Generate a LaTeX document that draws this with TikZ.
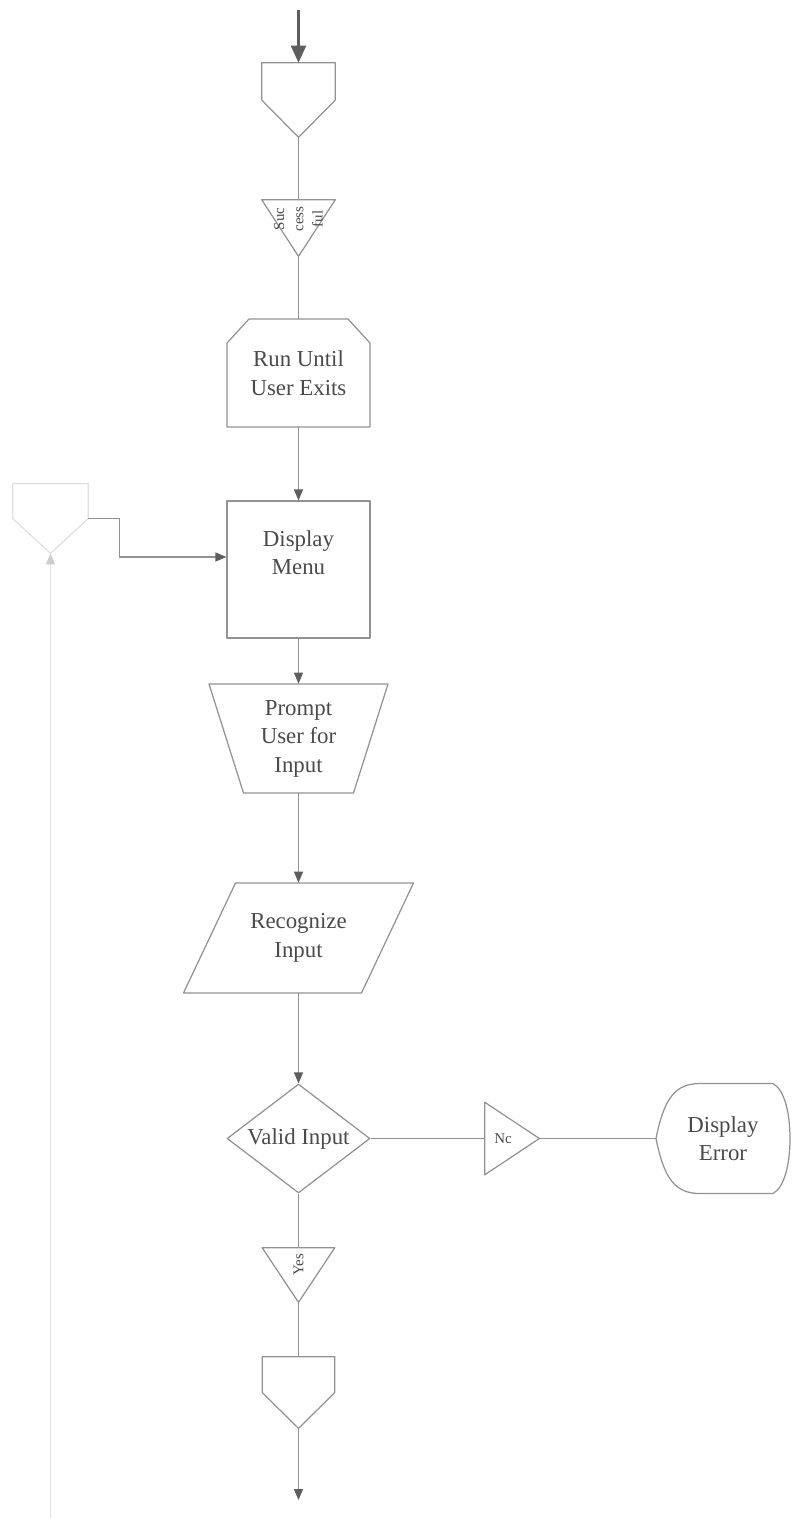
\documentclass[tikz,border=0pt]{standalone}
\usepackage{fontspec}
\setmainfont{Liberation Serif}
\usetikzlibrary{shapes.geometric, arrows.meta, positioning, calc}

\definecolor{linegray}{HTML}{929292}
\definecolor{tipgray}{HTML}{5E5E5E}
\definecolor{textgray}{HTML}{4A4A4A}
\definecolor{fadegray}{HTML}{E0E0E0}

\begin{document}
\begin{tikzpicture}[
    x=0.02cm, y=-0.02cm,
    every node/.style={text=textgray, font=\fontsize{13}{16.2}\selectfont},
    shapebox/.style={inner sep=0pt, align=center},
    tinytext/.style={font=\fontsize{8.5}{11}\selectfont},
    outline/.style={draw=linegray, line width=0.7pt, line join=round},
    link/.style={draw=linegray, line width=0.7pt},
    arrow/.style={link, -{Triangle[length=0.22cm,width=0.18cm,color=tipgray]}},
    entryarrow/.style={draw=tipgray, line width=1.2pt, -{Triangle[length=0.34cm,width=0.3cm]}},
    fadeline/.style={draw=fadegray, line width=0.7pt, -{Triangle[length=0.22cm,width=0.18cm,color=fadegray!80!gray]}}
]
    \useasboundingbox (0,0) rectangle (792,1518);

    % Entry
    \coordinate (entry) at (298.5,10);
    \node[shapebox, minimum width=1.46cm, minimum height=1.48cm] (offtop) at (298.5,100) {};
    \draw[outline] (offtop.north west) -- (offtop.north east) -- (offtop.east) -- (offtop.south) -- (offtop.west) -- cycle;

    % Successful
    \node[shapebox, minimum width=1.46cm, minimum height=1.12cm] (succ) at (298.5,228) {};
    \draw[outline] (succ.north west) -- (succ.north east) -- (succ.south) -- cycle;
    \node[shapebox, tinytext, rotate=90] (succtext) at (298.5,219) {Suc\\cess\\ful};

    % Loop limit
    \node[shapebox, minimum width=2.86cm, minimum height=2.16cm] (run) at (298.5,373) {Run Until\\User Exits};
    \draw[outline, shift={(run.center)}] (-71.5,54) -- (-71.5,-30) -- (-49.5,-54) -- (49.5,-54) -- (71.5,-30) -- (71.5,54) -- cycle;

    % Menu
    \node[shapebox, outline, minimum width=2.86cm, minimum height=2.74cm,
        label={[shapebox, yshift=0.34cm]center:Display\\Menu}] (menu) at (298.5,569.5) {};

    % Prompt
    \node[shapebox, minimum width=3.58cm, minimum height=2.18cm] (prompt) at (298.5,738.5) {Prompt\\User for\\Input};
    \draw[outline, shift={(prompt.center)}] (-89.5,-54.5) -- (89.5,-54.5) -- (55,54.5) -- (-55,54.5) -- cycle;

    % Recognize
    \node[shapebox, minimum width=4.6cm, minimum height=2.2cm] (recog) at (298.5,938) {Recognize\\Input};
    \draw[outline, shift={(recog.center)}] (-63,-55) -- (115,-55) -- (63,55) -- (-115,55) -- cycle;

    % Decision
    \node[diamond, outline, inner sep=0pt, aspect=1.31, minimum width=2.86cm, minimum height=2.18cm] (valid) at (298.5,1138.5) {Valid Input};

    % No branch
    \node[shapebox, minimum width=1.08cm, minimum height=1.44cm,
        label={[shapebox, tinytext, xshift=-0.18cm]center:Nc}] (no) at (512,1138.5) {};
    \draw[outline] (no.north west) -- (no.east) -- (no.south west) -- cycle;

    \node[shapebox, minimum width=2.68cm, minimum height=2.2cm] (error) at (723,1138.5) {Display\\Error};
    \draw[outline, shift={(error.center)}] (-67,0) .. controls (-59,-40) and (-48,-55) .. (-23,-55) -- (50,-55)
        .. controls (61,-49) and (67,-27) .. (67,0) .. controls (67,27) and (61,49) .. (50,55) -- (-23,55)
        .. controls (-48,55) and (-59,40) .. (-67,0) -- cycle;

    % Yes branch
    \node[shapebox, minimum width=1.44cm, minimum height=1.08cm] (yes) at (298.5,1275) {};
    \draw[outline] (yes.north west) -- (yes.north east) -- (yes.south) -- cycle;
    \node[shapebox, tinytext, rotate=90] (yestext) at (298.5,1265) {Yes};

    \node[shapebox, minimum width=1.44cm, minimum height=1.42cm] (offbot) at (298.5,1392.5) {};
    \draw[outline] (offbot.north west) -- (offbot.north east) -- (offbot.east) -- (offbot.south) -- (offbot.west) -- cycle;
    \coordinate (exit) at (298.5,1500);

    % Return connector
    \node[shapebox, minimum width=1.5cm, minimum height=1.38cm] (loop) at (50.5,518.5) {};
    \draw[outline, draw=fadegray] (loop.north west) -- (loop.north east) -- (loop.east) -- (loop.south) -- (loop.west) -- cycle;
    \coordinate (loopbase) at (50.5,1518);

    % Arrows
    \draw[entryarrow] (entry) -- (offtop.north);
    \draw[link] (offtop.south) -- (succ.north);
    \draw[link] (succ.south) -- (run.north);
    \draw[arrow] (run.south) -- (menu.north);
    \draw[arrow] (menu.south) -- (prompt.north);
    \draw[arrow] (prompt.south) -- (recog.north);
    \draw[arrow] (recog.south) -- (valid.north);
    \draw[link] (valid.east) -- (no.west);
    \draw[link] (no.east) -- (error.west);
    \draw[link] (valid.south) -- (yes.north);
    \draw[link] (yes.south) -- (offbot.north);
    \draw[arrow] (offbot.south) -- (exit);
    \draw[fadeline] (loopbase) -- (loop.south);
    \draw[arrow] (loop.east) -- ++(31,0) |- ([yshift=0.25cm]menu.west);
\end{tikzpicture}
\end{document}
